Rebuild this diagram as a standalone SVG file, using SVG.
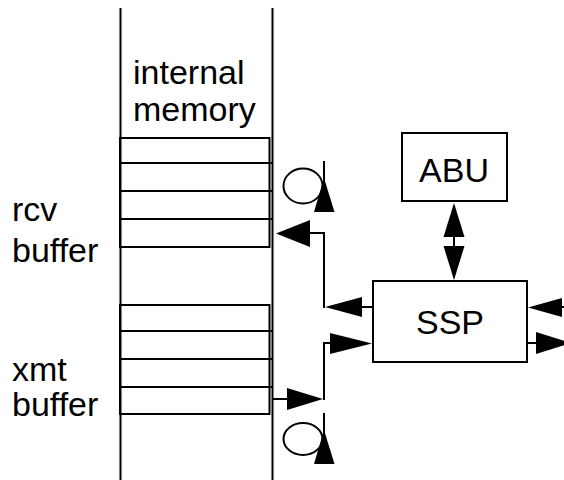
<svg xmlns="http://www.w3.org/2000/svg" width="564" height="480" viewBox="0 0 564 480">
<style>
.ln{stroke:#000;stroke-width:2;fill:none}
.box{stroke:#000;stroke-width:2;fill:#fff}
.cell{stroke:#000;stroke-width:2;fill:none}
.ah{fill:#000;stroke:none}
text{font-family:"Liberation Sans",Arial,sans-serif;font-size:34px;fill:#000}
</style>
<rect width="564" height="480" fill="#fff"/>
<g id="memory">
<line class="ln" x1="120.5" y1="8" x2="120.5" y2="480"/>
<line class="ln" x1="272.5" y1="8" x2="272.5" y2="480"/>
<text x="133" y="84">internal</text>
<text x="133" y="121">memory</text>
</g>
<g id="rcv-buffer">
<rect class="cell" x="120" y="138" width="149.5" height="109"/>
<line class="cell" x1="120" y1="163" x2="272" y2="163"/>
<line class="cell" x1="120" y1="191" x2="272" y2="191"/>
<line class="cell" x1="120" y1="219" x2="272" y2="219"/>
<text x="12" y="221">rcv</text>
<text x="12" y="262">buffer</text>
</g>
<g id="xmt-buffer">
<rect class="cell" x="120" y="305" width="149.5" height="109"/>
<line class="cell" x1="120" y1="331" x2="272" y2="331"/>
<line class="cell" x1="120" y1="359" x2="272" y2="359"/>
<line class="cell" x1="120" y1="387" x2="272" y2="387"/>
<text x="12" y="381">xmt</text>
<text x="12" y="416">buffer</text>
</g>
<g id="rcv-loop">
<ellipse class="ln" cx="303" cy="186" rx="19.5" ry="17.5"/>
<line class="ln" x1="324" y1="161" x2="324" y2="211"/>
<polygon class="ah" points="324,178 334.5,212 314,212"/>
</g>
<g id="xmt-loop">
<ellipse class="ln" cx="303" cy="439" rx="19.5" ry="16"/>
<line class="ln" x1="324" y1="413" x2="324" y2="463"/>
<polygon class="ah" points="324,430 334.5,464 314,464"/>
</g>
<g id="abu">
<rect class="box" x="402" y="133" width="105" height="68"/>
<text x="454" y="182" text-anchor="middle">ABU</text>
</g>
<g id="ssp">
<rect class="box" x="373" y="281" width="154" height="81"/>
<text x="450" y="334" text-anchor="middle">SSP</text>
</g>
<g id="connectors">
<polyline class="ln" points="373,307 360,307"/>
<polygon class="ah" points="325,307 362,297 362,317"/>
<polyline class="ln" points="324,308 324,233 308,233"/>
<polygon class="ah" points="276,233.5 310,220 310,247"/>
<polyline class="ln" points="273,399 289,399"/>
<polygon class="ah" points="323,399 287,388 287,410"/>
<polyline class="ln" points="324,400 324,343 332,343"/>
<polygon class="ah" points="372,343.5 330,333 330,354"/>
<polygon class="ah" points="454,203 464.5,237 443.5,237"/>
<line class="ln" x1="454" y1="236" x2="454" y2="247"/>
<polygon class="ah" points="454,280 464.5,246 443.5,246"/>
<line class="ln" x1="560" y1="307" x2="566" y2="307"/>
<polygon class="ah" points="528,307.5 562,298 562,317"/>
<line class="ln" x1="527" y1="343" x2="538" y2="343"/>
<polygon class="ah" points="571,343 536,332 536,354"/>
</g>
</svg>
